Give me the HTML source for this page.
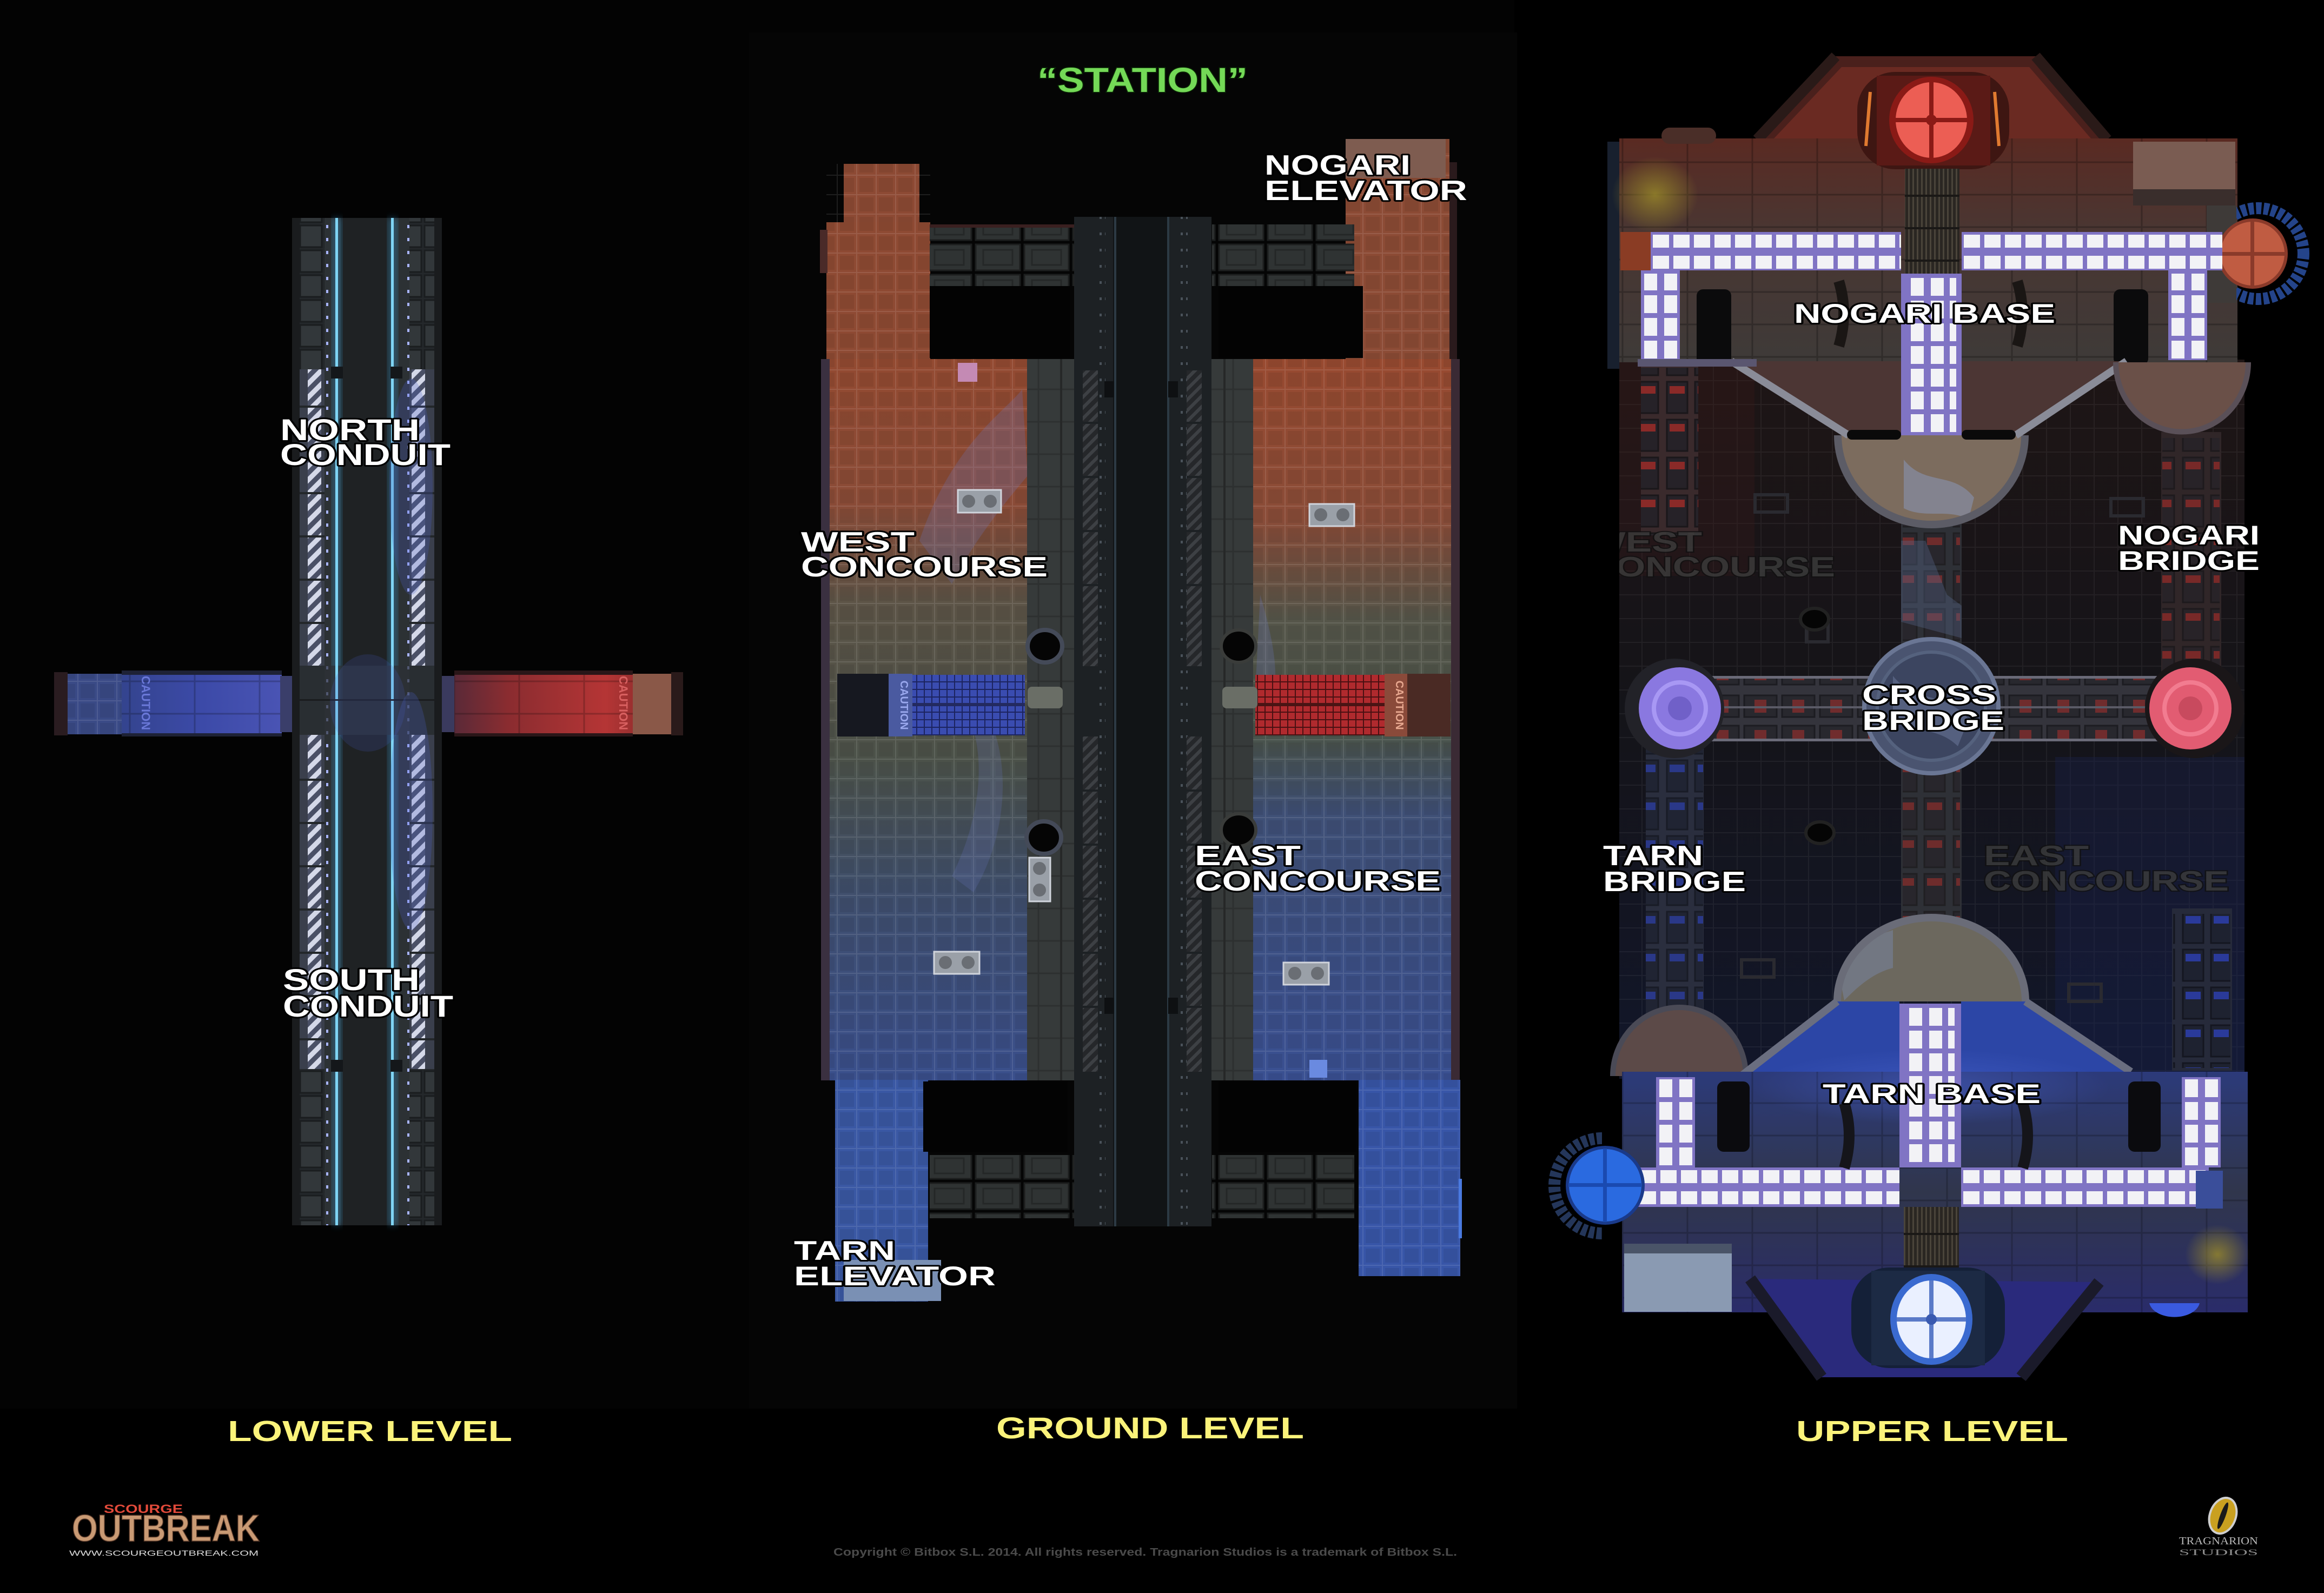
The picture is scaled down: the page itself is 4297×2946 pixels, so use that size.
<!DOCTYPE html>
<html><head><meta charset="utf-8">
<style>
html,body{margin:0;padding:0;background:#000;}
svg{display:block}
.l{font-family:"Liberation Sans",sans-serif;font-weight:bold;fill:#fff;stroke:#000;stroke-width:6;paint-order:stroke;stroke-linejoin:round}
.g{font-family:"Liberation Sans",sans-serif;font-weight:bold;fill:#3c3c3c;stroke:#111;stroke-width:4;paint-order:stroke}
.y{font-family:"Liberation Sans",sans-serif;font-weight:bold;fill:#fbf37a}
</style></head>
<body>
<svg width="4297" height="2946" viewBox="0 0 4297 2946" xmlns="http://www.w3.org/2000/svg">
<defs>
 <pattern id="tile" width="36" height="36" patternUnits="userSpaceOnUse">
  <rect width="36" height="36" fill="none" stroke="rgba(255,255,255,0.10)" stroke-width="2"/>
  <rect x="5" y="5" width="26" height="26" fill="rgba(0,0,0,0.07)"/>
 </pattern>
 <pattern id="tileD" width="44" height="44" patternUnits="userSpaceOnUse">
  <rect width="44" height="44" fill="none" stroke="rgba(255,255,255,0.05)" stroke-width="2"/>
 </pattern>
 <pattern id="haz" width="18" height="18" patternUnits="userSpaceOnUse" patternTransform="rotate(45)">
  <rect width="18" height="18" fill="#4a5066"/><rect width="9" height="18" fill="#d4d8e8"/>
 </pattern>
 <pattern id="hazd" width="14" height="14" patternUnits="userSpaceOnUse" patternTransform="rotate(45)">
  <rect width="14" height="14" fill="#25272a"/><rect width="6" height="14" fill="#3d4044"/>
 </pattern>
 <pattern id="dots" width="10" height="24" patternUnits="userSpaceOnUse">
  <rect x="3" y="8" width="4" height="6" fill="#a8b4ff"/>
 </pattern>
 <pattern id="dotsd" width="10" height="30" patternUnits="userSpaceOnUse">
  <rect x="3" y="10" width="4" height="5" fill="#4a525a"/>
 </pattern>
 <pattern id="panel" width="46" height="46" patternUnits="userSpaceOnUse">
  <rect x="3" y="3" width="40" height="40" fill="#32373a" stroke="#1a1d1f" stroke-width="3"/>
 </pattern>
 <pattern id="gpan" width="90" height="56" patternUnits="userSpaceOnUse">
  <rect x="4" y="4" width="82" height="48" fill="#2f3333" stroke="#1c1e1e" stroke-width="3"/>
  <rect x="18" y="14" width="54" height="28" fill="none" stroke="#242727" stroke-width="3"/>
 </pattern>
 <pattern id="grateB" width="14" height="14" patternUnits="userSpaceOnUse">
  <rect width="14" height="14" fill="#3a4cb0"/><rect width="14" height="2" fill="#1c2460"/><rect width="2" height="14" fill="#1c2460"/>
 </pattern>
 <pattern id="grateR" width="14" height="14" patternUnits="userSpaceOnUse">
  <rect width="14" height="14" fill="#b02a2e"/><rect width="14" height="2" fill="#4a1012"/><rect width="2" height="14" fill="#4a1012"/>
 </pattern>
 <pattern id="vgrate" width="8" height="60" patternUnits="userSpaceOnUse">
  <rect width="8" height="60" fill="#2a2622"/><rect width="3" height="60" fill="#4a443a"/><rect width="8" height="4" fill="#1a1816"/>
 </pattern>
 <pattern id="litH" width="38" height="73" patternUnits="userSpaceOnUse">
  <rect x="4" y="5" width="30" height="24" fill="#f2f2f6"/>
  <rect x="4" y="44" width="30" height="24" fill="#f2f2f6"/>
 </pattern>
 <pattern id="litV" width="72" height="42" patternUnits="userSpaceOnUse">
  <rect x="6" y="4" width="24" height="33" fill="#f2f2f6"/>
  <rect x="43" y="4" width="24" height="33" fill="#f2f2f6"/>
 </pattern>
 <pattern id="bslot" width="106" height="70" patternUnits="userSpaceOnUse">
  <rect x="8" y="6" width="38" height="58" fill="#262228" stroke="#1a171a" stroke-width="3"/>
  <rect x="60" y="6" width="38" height="58" fill="#262228" stroke="#1a171a" stroke-width="3"/>
  <rect x="13" y="14" width="28" height="14" fill="#8a2a28"/>
  <rect x="65" y="14" width="28" height="14" fill="#8a2a28"/>
 </pattern>
 <pattern id="bslotB" width="106" height="70" patternUnits="userSpaceOnUse">
  <rect x="8" y="6" width="38" height="58" fill="#1e2230" stroke="#141620" stroke-width="3"/>
  <rect x="60" y="6" width="38" height="58" fill="#1e2230" stroke="#141620" stroke-width="3"/>
  <rect x="13" y="14" width="28" height="14" fill="#2a3a9a"/>
  <rect x="65" y="14" width="28" height="14" fill="#2a3a9a"/>
 </pattern>
 <pattern id="hslot" width="70" height="116" patternUnits="userSpaceOnUse">
  <rect x="5" y="10" width="60" height="40" fill="#26262c" stroke="#18181c" stroke-width="3"/>
  <rect x="5" y="66" width="60" height="40" fill="#26262c" stroke="#18181c" stroke-width="3"/>
  <rect x="24" y="18" width="22" height="24" fill="#7a2a2a"/>
  <rect x="24" y="74" width="22" height="24" fill="#7a2a2a"/>
 </pattern>
 <pattern id="wpan" width="120" height="60" patternUnits="userSpaceOnUse">
  <rect width="120" height="60" fill="none" stroke="rgba(0,0,0,0.35)" stroke-width="3"/>
 </pattern>
 <linearGradient id="gW" x1="0" y1="0" x2="0" y2="1">
  <stop offset="0" stop-color="#934a31"/><stop offset="0.2" stop-color="#8a4b37"/>
  <stop offset="0.34" stop-color="#5c5447"/><stop offset="0.55" stop-color="#4c5249"/>
  <stop offset="0.75" stop-color="#3f4f6e"/><stop offset="1" stop-color="#3a4f8c"/>
 </linearGradient>
 <linearGradient id="gE" x1="0" y1="0" x2="0" y2="1">
  <stop offset="0" stop-color="#984a30"/><stop offset="0.22" stop-color="#8a4c38"/>
  <stop offset="0.36" stop-color="#56564a"/><stop offset="0.52" stop-color="#4a5349"/>
  <stop offset="0.63" stop-color="#3f5076"/><stop offset="1" stop-color="#3a5092"/>
 </linearGradient>
 <linearGradient id="gBlueArm" x1="0" y1="0" x2="1" y2="0">
  <stop offset="0" stop-color="#34448e"/><stop offset="0.5" stop-color="#3c4aa8"/><stop offset="1" stop-color="#4a54b4"/>
 </linearGradient>
 <linearGradient id="gRedArm" x1="0" y1="0" x2="1" y2="0">
  <stop offset="0" stop-color="#5a2a38"/><stop offset="0.3" stop-color="#8a2c30"/><stop offset="0.85" stop-color="#b53535"/><stop offset="1" stop-color="#9a3030"/>
 </linearGradient>
 <linearGradient id="gNog" x1="0" y1="0" x2="0" y2="1">
  <stop offset="0" stop-color="#5a2a22"/><stop offset="0.4" stop-color="#4a3632"/><stop offset="1" stop-color="#3e3a38"/>
 </linearGradient>
 <linearGradient id="gMid" x1="0" y1="0" x2="0" y2="1">
  <stop offset="0" stop-color="#1e1515"/><stop offset="0.5" stop-color="#141419"/><stop offset="1" stop-color="#12162a"/>
 </linearGradient>
 <linearGradient id="gTarn" x1="0" y1="0" x2="0" y2="1">
  <stop offset="0" stop-color="#2c3a7a"/><stop offset="0.5" stop-color="#30364c"/><stop offset="1" stop-color="#2a2c6a"/>
 </linearGradient>
 <radialGradient id="glowY"><stop offset="0" stop-color="#9a8a2a" stop-opacity="0.8"/><stop offset="1" stop-color="#9a8a2a" stop-opacity="0"/></radialGradient>
 <radialGradient id="glowB"><stop offset="0" stop-color="#4a64d0" stop-opacity="0.5"/><stop offset="1" stop-color="#4a64d0" stop-opacity="0"/></radialGradient>
 <clipPath id="ghostClip"><rect x="2994" y="900" width="600" height="200"/></clipPath>
 <filter id="blur6"><feGaussianBlur stdDeviation="6"/></filter>
</defs>

<rect width="4297" height="2946" fill="#000"/>
<rect x="0" y="0" width="2800" height="2605" fill="#030303"/>
<rect x="1385" y="60" width="1420" height="2545" fill="#050505"/>

<!-- ================= LOWER LEVEL ================= -->
<g>
 <rect x="100" y="1243" width="25" height="117" fill="#2a1c20"/>
 <rect x="125" y="1246" width="100" height="112" fill="#3a4a86"/>
 <rect x="125" y="1246" width="100" height="112" fill="url(#tile)"/>
 <rect x="225" y="1246" width="296" height="112" fill="url(#gBlueArm)"/>
 <rect x="225" y="1246" width="296" height="112" fill="url(#wpan)" opacity="0.6"/>
 <rect x="225" y="1240" width="296" height="8" fill="#1e2236"/>
 <rect x="225" y="1356" width="296" height="6" fill="#1e2236"/>
 <text x="262" y="1300" font-family="Liberation Sans" font-weight="bold" font-size="22" fill="#6a78d8" transform="rotate(90 262 1300)" text-anchor="middle">CAUTION</text>
 <rect x="518" y="1250" width="27" height="104" fill="#3a3e6a"/>
 <rect x="812" y="1250" width="30" height="104" fill="#3a3a5e"/>
 <rect x="840" y="1246" width="330" height="112" fill="url(#gRedArm)"/>
 <rect x="840" y="1246" width="330" height="112" fill="url(#wpan)" opacity="0.6"/>
 <rect x="840" y="1240" width="330" height="8" fill="#2a1618"/>
 <rect x="840" y="1356" width="330" height="6" fill="#2a1618"/>
 <text x="1145" y="1300" font-family="Liberation Sans" font-weight="bold" font-size="22" fill="#d86060" transform="rotate(90 1145 1300)" text-anchor="middle">CAUTION</text>
 <rect x="1170" y="1246" width="71" height="112" fill="#8a5848"/>
 <rect x="1241" y="1243" width="22" height="117" fill="#2a1a1a"/>

 <rect x="540" y="403" width="277" height="1863" fill="#24282b"/>
 <rect x="540" y="403" width="14" height="1863" fill="#1a1c1e"/>
 <rect x="803" y="403" width="14" height="1863" fill="#1a1c1e"/>
 <rect x="554" y="403" width="46" height="280" fill="url(#panel)"/>
 <rect x="757" y="403" width="46" height="280" fill="url(#panel)"/>
 <rect x="554" y="1977" width="46" height="289" fill="url(#panel)"/>
 <rect x="757" y="1977" width="46" height="289" fill="url(#panel)"/>
 <rect x="554" y="683" width="46" height="548" fill="#3a3f4c"/>
 <rect x="757" y="683" width="46" height="548" fill="#3a3f4c"/>
 <rect x="554" y="1359" width="46" height="618" fill="#3a3f4c"/>
 <rect x="757" y="1359" width="46" height="618" fill="#3a3f4c"/>
 <rect x="569" y="683" width="25" height="548" fill="url(#haz)"/>
 <rect x="761" y="683" width="25" height="548" fill="url(#haz)"/>
 <rect x="569" y="1359" width="25" height="618" fill="url(#haz)"/>
 <rect x="761" y="1359" width="25" height="618" fill="url(#haz)"/>
 <g fill="#23272a">
  <rect x="554" y="750" width="46" height="4"/><rect x="554" y="830" width="46" height="4"/><rect x="554" y="910" width="46" height="4"/><rect x="554" y="990" width="46" height="4"/><rect x="554" y="1070" width="46" height="4"/><rect x="554" y="1150" width="46" height="4"/>
  <rect x="757" y="750" width="46" height="4"/><rect x="757" y="830" width="46" height="4"/><rect x="757" y="910" width="46" height="4"/><rect x="757" y="990" width="46" height="4"/><rect x="757" y="1070" width="46" height="4"/><rect x="757" y="1150" width="46" height="4"/>
  <rect x="554" y="1440" width="46" height="4"/><rect x="554" y="1520" width="46" height="4"/><rect x="554" y="1600" width="46" height="4"/><rect x="554" y="1680" width="46" height="4"/><rect x="554" y="1760" width="46" height="4"/><rect x="554" y="1840" width="46" height="4"/><rect x="554" y="1920" width="46" height="4"/>
  <rect x="757" y="1440" width="46" height="4"/><rect x="757" y="1520" width="46" height="4"/><rect x="757" y="1600" width="46" height="4"/><rect x="757" y="1680" width="46" height="4"/><rect x="757" y="1760" width="46" height="4"/><rect x="757" y="1840" width="46" height="4"/><rect x="757" y="1920" width="46" height="4"/>
 </g>
 <rect x="600" y="403" width="30" height="1863" fill="#2c3134"/>
 <rect x="727" y="403" width="30" height="1863" fill="#2c3134"/>
 <rect x="599" y="403" width="10" height="1863" fill="url(#dots)"/>
 <rect x="748" y="403" width="10" height="1863" fill="url(#dots)"/>
 <rect x="630" y="403" width="97" height="1863" fill="#1f2224"/>
 <rect x="614" y="403" width="18" height="1863" fill="#3aa0d8" opacity="0.35" filter="url(#blur6)"/>
 <rect x="717" y="403" width="18" height="1863" fill="#3aa0d8" opacity="0.35" filter="url(#blur6)"/>
 <rect x="620" y="403" width="5" height="1863" fill="#7fd4f4"/>
 <rect x="723" y="403" width="5" height="1863" fill="#7fd4f4"/>
 <rect x="612" y="678" width="22" height="22" fill="#14171a"/><rect x="722" y="678" width="22" height="22" fill="#14171a"/>
 <rect x="612" y="1960" width="22" height="22" fill="#14171a"/><rect x="722" y="1960" width="22" height="22" fill="#14171a"/>
 <rect x="554" y="1231" width="249" height="128" fill="#2c3036" opacity="0.7"/>
 <rect x="620" y="1231" width="5" height="128" fill="#7fd4f4"/>
 <rect x="723" y="1231" width="5" height="128" fill="#7fd4f4"/>
 <rect x="554" y="1293" width="249" height="3" fill="#1a1c1e"/>
 <ellipse cx="760" cy="900" rx="40" ry="200" fill="#4a60c8" opacity="0.25"/>
 <ellipse cx="760" cy="1500" rx="40" ry="220" fill="#4a60c8" opacity="0.25"/>
 <ellipse cx="680" cy="1300" rx="70" ry="90" fill="#4a60c8" opacity="0.18"/>

 <text class="l" x="518" y="814" font-size="56" textLength="258" lengthAdjust="spacingAndGlyphs">NORTH</text>
 <text class="l" x="518" y="860" font-size="56" textLength="315" lengthAdjust="spacingAndGlyphs">CONDUIT</text>
 <text class="l" x="523" y="1831" font-size="56" textLength="253" lengthAdjust="spacingAndGlyphs">SOUTH</text>
 <text class="l" x="523" y="1880" font-size="56" textLength="315" lengthAdjust="spacingAndGlyphs">CONDUIT</text>
</g>

<!-- ================= GROUND LEVEL ================= -->
<g>
 <text x="1918" y="170" font-family="Liberation Sans" font-weight="bold" font-size="64" fill="#74d957" stroke="#0b2a06" stroke-width="3" paint-order="stroke" textLength="389" lengthAdjust="spacingAndGlyphs">“STATION”</text>

 <rect x="1560" y="303" width="140" height="110" fill="#8d4a34"/>
 <rect x="1528" y="411" width="192" height="255" fill="#8e4a33"/>
 <rect x="1528" y="303" width="192" height="363" fill="url(#tile)"/>
 <rect x="1516" y="425" width="14" height="80" fill="#4a2a28"/>
 <rect x="2488" y="257" width="192" height="409" fill="#8c4b35"/>
 <rect x="2488" y="257" width="192" height="409" fill="url(#tile)"/>
 <rect x="2488" y="257" width="185" height="72" fill="#7e5c50"/>
 <rect x="2680" y="300" width="14" height="370" fill="#2a1a1c"/>

 <rect x="1532" y="664" width="367" height="1334" fill="url(#gW)"/>
 <rect x="1532" y="664" width="367" height="1334" fill="url(#tile)"/>
 <rect x="1518" y="664" width="16" height="1334" fill="#3a3040"/>
 <rect x="2317" y="664" width="366" height="1334" fill="url(#gE)"/>
 <rect x="2317" y="664" width="366" height="1334" fill="url(#tile)"/>
 <rect x="2683" y="664" width="16" height="1334" fill="#3a2a34"/>
 <path d="M1700,1000 C1760,820 1860,760 1890,720 L1900,880 C1840,950 1790,1020 1760,1080 Z" fill="#6a78c0" opacity="0.25"/>
 <path d="M1830,1330 C1870,1420 1860,1550 1800,1650 L1760,1620 C1810,1520 1820,1420 1800,1350 Z" fill="#6a78c0" opacity="0.22"/>
 <path d="M2330,1100 C2360,1200 2370,1280 2340,1320 L2320,1300 Z" fill="#6a78c0" opacity="0.25"/>
 <rect x="1899" y="664" width="87" height="1334" fill="#363a3a"/>
 <rect x="1899" y="664" width="87" height="1334" fill="url(#wpan)" opacity="0.5"/>
 <rect x="1960" y="664" width="4" height="1334" fill="#262828"/>
 <rect x="2240" y="664" width="77" height="1334" fill="#363a3a"/>
 <rect x="2240" y="664" width="77" height="1334" fill="url(#wpan)" opacity="0.5"/>
 <rect x="2262" y="664" width="4" height="1334" fill="#262828"/>

 <rect x="1544" y="1997" width="172" height="410" fill="#3a58a4"/>
 <rect x="1544" y="1997" width="172" height="410" fill="url(#tile)"/>
 <rect x="1560" y="2330" width="180" height="76" fill="#7a90b4"/>
 <rect x="2512" y="1997" width="188" height="363" fill="#3856a8"/>
 <rect x="2512" y="1997" width="188" height="363" fill="url(#tile)"/>
 <rect x="2697" y="2180" width="6" height="110" fill="#4a7ae0"/>

 <rect x="1986" y="401" width="254" height="1867" fill="#1d2124"/>
 <rect x="2030" y="401" width="14" height="1867" fill="url(#dotsd)"/>
 <rect x="2182" y="401" width="14" height="1867" fill="url(#dotsd)"/>
 <rect x="2058" y="401" width="104" height="1867" fill="#111416"/>
 <rect x="2060" y="401" width="4" height="1867" fill="#2c3a44"/>
 <rect x="2158" y="401" width="4" height="1867" fill="#2c3a44"/>
 <rect x="2002" y="685" width="28" height="547" fill="url(#hazd)"/>
 <rect x="2194" y="685" width="28" height="547" fill="url(#hazd)"/>
 <rect x="2002" y="1362" width="28" height="620" fill="url(#hazd)"/>
 <rect x="2194" y="1362" width="28" height="620" fill="url(#hazd)"/>
 <g fill="#1d2124">
  <rect x="2002" y="780" width="28" height="4"/><rect x="2002" y="880" width="28" height="4"/><rect x="2002" y="980" width="28" height="4"/><rect x="2002" y="1080" width="28" height="4"/>
  <rect x="2194" y="780" width="28" height="4"/><rect x="2194" y="880" width="28" height="4"/><rect x="2194" y="980" width="28" height="4"/><rect x="2194" y="1080" width="28" height="4"/>
  <rect x="2002" y="1460" width="28" height="4"/><rect x="2002" y="1560" width="28" height="4"/><rect x="2002" y="1660" width="28" height="4"/><rect x="2002" y="1760" width="28" height="4"/><rect x="2002" y="1860" width="28" height="4"/>
  <rect x="2194" y="1460" width="28" height="4"/><rect x="2194" y="1560" width="28" height="4"/><rect x="2194" y="1660" width="28" height="4"/><rect x="2194" y="1760" width="28" height="4"/><rect x="2194" y="1860" width="28" height="4"/>
 </g>
 <rect x="2042" y="705" width="18" height="30" fill="#0e1012"/><rect x="2160" y="705" width="18" height="30" fill="#0e1012"/>
 <rect x="2042" y="1845" width="18" height="30" fill="#0e1012"/><rect x="2160" y="1845" width="18" height="30" fill="#0e1012"/>

 <rect x="1719" y="415" width="267" height="114" fill="url(#gpan)"/>
 <rect x="1719" y="415" width="267" height="6" fill="#3a2020"/>
 <rect x="2241" y="415" width="263" height="114" fill="url(#gpan)"/>
 <rect x="1719" y="529" width="259" height="133" fill="#030303"/>
 <rect x="2253" y="529" width="267" height="133" fill="#030303"/>
 <rect x="1719" y="2136" width="267" height="117" fill="url(#gpan)"/>
 <rect x="2241" y="2136" width="263" height="117" fill="url(#gpan)"/>
 <rect x="1707" y="2000" width="267" height="130" fill="#030303"/>
 <rect x="2253" y="2000" width="255" height="130" fill="#030303"/>

 <rect x="1548" y="1246" width="95" height="116" fill="#161820"/>
 <rect x="1643" y="1246" width="44" height="116" fill="#4a5aa0"/>
 <text x="1665" y="1304" font-family="Liberation Sans" font-weight="bold" font-size="20" fill="#9aa8ee" transform="rotate(90 1665 1304)" text-anchor="middle">CAUTION</text>
 <rect x="1687" y="1248" width="208" height="112" fill="url(#grateB)"/>
 <rect x="1687" y="1300" width="208" height="6" fill="#232a60"/>
 <rect x="2321" y="1248" width="239" height="112" fill="url(#grateR)"/>
 <rect x="2321" y="1300" width="239" height="6" fill="#4a1414"/>
 <rect x="2560" y="1246" width="42" height="116" fill="#8a4a3a"/>
 <text x="2581" y="1304" font-family="Liberation Sans" font-weight="bold" font-size="20" fill="#e8a890" transform="rotate(90 2581 1304)" text-anchor="middle">CAUTION</text>
 <rect x="2602" y="1246" width="80" height="116" fill="#4a2a24"/>
 <rect x="1900" y="1270" width="65" height="40" rx="8" fill="#6a6e66"/>
 <rect x="2260" y="1270" width="65" height="40" rx="8" fill="#6a6e66"/>
 <ellipse cx="1932" cy="1195" rx="32" ry="30" fill="#050505" stroke="#444a58" stroke-width="8"/>
 <ellipse cx="2290" cy="1195" rx="32" ry="30" fill="#050505" stroke="#3a3c3a" stroke-width="6"/>
 <ellipse cx="1930" cy="1549" rx="32" ry="30" fill="#050505" stroke="#444a58" stroke-width="8"/>
 <ellipse cx="2290" cy="1535" rx="32" ry="30" fill="#050505" stroke="#3a3c3a" stroke-width="6"/>
 <g fill="#9aa0a8" stroke="#d0d4dc" stroke-width="3">
  <rect x="1771" y="906" width="80" height="42"/><rect x="2421" y="932" width="83" height="41"/>
  <rect x="1727" y="1760" width="84" height="41"/><rect x="2373" y="1780" width="84" height="41"/>
  <rect x="1903" y="1586" width="39" height="81"/>
 </g>
 <g fill="#6a6e74">
  <circle cx="1791" cy="927" r="12"/><circle cx="1831" cy="927" r="12"/>
  <circle cx="2442" cy="952" r="12"/><circle cx="2483" cy="952" r="12"/>
  <circle cx="1748" cy="1780" r="12"/><circle cx="1790" cy="1780" r="12"/>
  <circle cx="2394" cy="1800" r="12"/><circle cx="2436" cy="1800" r="12"/>
  <circle cx="1922" cy="1606" r="12"/><circle cx="1922" cy="1646" r="12"/>
 </g>
 <rect x="1771" y="671" width="36" height="35" fill="#c48ab4"/>
 <rect x="2421" y="1960" width="33" height="33" fill="#6a8ae0"/>

 <text class="l" x="2338" y="323" font-size="52" textLength="270" lengthAdjust="spacingAndGlyphs">NOGARI</text>
 <text class="l" x="2338" y="370" font-size="52" textLength="375" lengthAdjust="spacingAndGlyphs">ELEVATOR</text>
 <text class="l" x="1481" y="1020" font-size="52" textLength="210" lengthAdjust="spacingAndGlyphs">WEST</text>
 <text class="l" x="1481" y="1066" font-size="52" textLength="456" lengthAdjust="spacingAndGlyphs">CONCOURSE</text>
 <text class="l" x="2209" y="1600" font-size="52" textLength="196" lengthAdjust="spacingAndGlyphs">EAST</text>
 <text class="l" x="2209" y="1647" font-size="52" textLength="455" lengthAdjust="spacingAndGlyphs">CONCOURSE</text>
 <text class="l" x="1468" y="2330" font-size="50" textLength="187" lengthAdjust="spacingAndGlyphs">TARN</text>
 <text class="l" x="1468" y="2377" font-size="50" textLength="373" lengthAdjust="spacingAndGlyphs">ELEVATOR</text>
</g>

<!-- ================= UPPER LEVEL ================= -->
<g>
 <rect x="2994" y="665" width="1156" height="1330" fill="url(#gMid)"/>
 <rect x="2994" y="665" width="1156" height="1330" fill="url(#tileD)"/>
 <rect x="2994" y="665" width="250" height="400" fill="#3a1a1a" opacity="0.3"/>
 <rect x="3800" y="1400" width="350" height="590" fill="#1a2250" opacity="0.35"/>
 <g fill="none" stroke="#2a2a30" stroke-width="6">
  <rect x="3245" y="915" width="60" height="32"/><rect x="3903" y="922" width="60" height="32"/>
  <rect x="3220" y="1775" width="60" height="32"/><rect x="3825" y="1820" width="60" height="32"/>
  <rect x="3340" y="1155" width="40" height="32"/>
 </g>
 <ellipse cx="3355" cy="1145" rx="26" ry="20" fill="#050505" stroke="#222" stroke-width="6"/>
 <ellipse cx="3365" cy="1540" rx="26" ry="20" fill="#050505" stroke="#222" stroke-width="6"/>

 <rect x="3034" y="670" width="106" height="320" fill="#3a2a2c"/>
 <rect x="3034" y="680" width="106" height="310" fill="url(#bslot)"/>
 <rect x="3996" y="799" width="111" height="445" fill="#302628"/>
 <rect x="3998" y="810" width="106" height="430" fill="url(#bslot)" opacity="0.8"/>
 <rect x="3043" y="1370" width="107" height="605" fill="#2a2e3e"/>
 <rect x="3043" y="1380" width="106" height="590" fill="url(#bslotB)" opacity="0.8"/>
 <rect x="4016" y="1680" width="111" height="300" fill="#262a3a"/>
 <rect x="4018" y="1690" width="106" height="285" fill="url(#bslotB)"/>
 <rect x="3515" y="960" width="112" height="745" fill="#2e3036"/>
 <rect x="3518" y="970" width="106" height="730" fill="url(#bslot)" opacity="0.7"/>
 <path d="M3515,1000 L3560,1000 L3600,1100 L3627,1120 L3627,1180 L3515,1150 Z" fill="#5a6a90" opacity="0.35"/>
 <rect x="3150" y="1252" width="850" height="116" fill="#34343c"/>
 <rect x="3150" y="1255" width="850" height="116" fill="url(#hslot)" opacity="0.85"/>
 <rect x="3150" y="1306" width="850" height="4" fill="#5a5a66"/>
 <rect x="3150" y="1250" width="850" height="5" fill="#6a6a78"/>
 <rect x="3150" y="1366" width="850" height="5" fill="#6a6a78"/>

 <circle cx="3571" cy="1306" r="124" fill="#4a5470" stroke="#6a7694" stroke-width="8"/>
 <circle cx="3571" cy="1306" r="100" fill="#3c4560" stroke="#55627e" stroke-width="6"/>
 <path d="M3500,1250 C3540,1300 3600,1280 3640,1330 L3620,1380 C3580,1340 3530,1360 3500,1320 Z" fill="#7a8ab0" opacity="0.4"/>
 <circle cx="3096" cy="1310" r="92" fill="#222228"/>
 <circle cx="3106" cy="1310" r="76" fill="#8a78e0"/>
 <circle cx="3106" cy="1310" r="48" fill="none" stroke="#a898f4" stroke-width="8"/>
 <circle cx="3106" cy="1310" r="22" fill="#7060c8"/>
 <circle cx="4058" cy="1310" r="92" fill="#1a1618"/>
 <circle cx="4050" cy="1310" r="76" fill="#e25c72"/>
 <circle cx="4050" cy="1310" r="48" fill="none" stroke="#f27c90" stroke-width="8"/>
 <circle cx="4050" cy="1310" r="22" fill="#c84a5e"/>

 <polygon points="3249,258 3394,104 3764,104 3896,258" fill="#4a201c"/>
 <polygon points="3280,256 3405,124 3752,124 3866,256" fill="#6a2a22"/>
 <path d="M3249,258 L3394,104" stroke="#2a1a18" stroke-width="20"/>
 <path d="M3896,258 L3764,104" stroke="#2a1a18" stroke-width="20"/>
 <rect x="2994" y="256" width="1143" height="414" fill="url(#gNog)"/>
 <rect x="2994" y="256" width="1143" height="414" fill="url(#wpan)" opacity="0.7"/>
 <rect x="2972" y="262" width="22" height="420" fill="#18202e"/>
 <rect x="3072" y="236" width="101" height="30" rx="15" fill="#4a2e28"/>
 <ellipse cx="3060" cy="360" rx="80" ry="70" fill="url(#glowY)"/>
 <rect x="3944" y="262" width="189" height="115" fill="#7a5c52"/>
 <rect x="3944" y="350" width="189" height="30" fill="#3a2e2c"/>
 <rect x="2996" y="429" width="56" height="71" fill="#8a3c24"/>
 <rect x="3434" y="133" width="281" height="180" rx="70" fill="#3e1612"/>
 <rect x="3470" y="140" width="210" height="166" fill="#5a1a16"/>
 <ellipse cx="3571" cy="222" rx="78" ry="80" fill="#8a1a16"/>
 <ellipse cx="3571" cy="222" rx="66" ry="70" fill="#ec5e54"/>
 <rect x="3567" y="152" width="8" height="140" fill="#8a1a16"/>
 <rect x="3505" y="218" width="132" height="8" fill="#8a1a16"/>
 <circle cx="3571" cy="222" r="10" fill="#8a1a16"/>
 <path d="M3458,170 L3450,270 M3688,170 L3696,270" stroke="#e07a30" stroke-width="6"/>
 <rect x="3522" y="312" width="101" height="196" fill="url(#vgrate)"/>
 <circle cx="4175" cy="469" r="84" fill="none" stroke="#24448a" stroke-width="22" stroke-dasharray="10 4"/>
 <rect x="4080" y="380" width="55" height="180" fill="#3e3a38"/>
 <circle cx="4165" cy="469" r="62" fill="#c05c42" stroke="#8a3a2a" stroke-width="6"/>
 <rect x="4161" y="410" width="7" height="118" fill="#8a3a2a"/>
 <rect x="4106" y="466" width="118" height="7" fill="#8a3a2a"/>
 <g transform="translate(3052,429)"><rect width="463" height="71" fill="#8074c4"/><rect width="463" height="71" fill="url(#litH)"/></g>
 <g transform="translate(3627,429)"><rect width="482" height="71" fill="#8074c4"/><rect width="482" height="71" fill="url(#litH)"/></g>
 <g transform="translate(3034,500)"><rect width="72" height="166" fill="#8074c4"/><rect y="6" width="72" height="160" fill="url(#litV)"/></g>
 <g transform="translate(4009,500)"><rect width="72" height="166" fill="#8074c4"/><rect y="6" width="72" height="160" fill="url(#litV)"/></g>
 <g transform="translate(3515,506)"><rect width="112" height="300" fill="#8074c4"/><g transform="translate(12,4)"><rect width="90" height="292" fill="url(#litV)"/></g></g>
 <rect x="3137" y="535" width="64" height="140" rx="12" fill="#0b0b0c"/>
 <rect x="3908" y="535" width="64" height="140" rx="12" fill="#0b0b0c"/>
 <path d="M3400,520 q18,60 0,120" stroke="#1a1614" stroke-width="20" fill="none"/>
 <path d="M3730,520 q18,60 0,120" stroke="#1a1614" stroke-width="20" fill="none"/>
 <polygon points="3201,668 3418,805 3515,805 3515,668" fill="#4c3634"/>
 <polygon points="3627,668 3627,805 3727,805 3932,668" fill="#4c3634"/>
 <path d="M3398,805 A173,165 0 0 0 3744,805 Z" fill="#7c6c5e"/>
 <path d="M3520,850 C3560,900 3610,870 3650,920 L3640,960 C3600,940 3560,960 3520,940 Z" fill="#8a9ac0" opacity="0.5"/>
 <path d="M3398,805 A173,165 0 0 0 3744,805" fill="none" stroke="#5c5c66" stroke-width="14"/>
 <path d="M3201,668 L3418,805" stroke="#8a8c98" stroke-width="14"/>
 <path d="M3932,668 L3727,805" stroke="#8a8c98" stroke-width="14"/>
 <rect x="3415" y="795" width="100" height="18" rx="9" fill="#0a0a0a"/>
 <rect x="3627" y="795" width="100" height="18" rx="9" fill="#0a0a0a"/>
 <path d="M3912,670 A122,128 0 0 0 4157,670 Z" fill="#6a5048"/>
 <path d="M3912,670 A122,128 0 0 0 4157,670" fill="none" stroke="#5a5058" stroke-width="10"/>
 <rect x="3028" y="664" width="220" height="14" fill="#5a5670"/>

 <path d="M3397,1852 A174,155 0 0 1 3745,1852 Z" fill="#6c685e"/>
 <path d="M3400,1800 C3430,1740 3470,1730 3500,1720 L3500,1790 C3460,1800 3430,1830 3410,1850 Z" fill="#7a8ab0" opacity="0.45"/>
 <path d="M3397,1852 A174,155 0 0 1 3745,1852" fill="none" stroke="#6a6c78" stroke-width="14"/>
 <path d="M2982,1990 A123,127 0 0 1 3228,1990 Z" fill="#5c4a48"/>
 <path d="M2982,1990 A123,127 0 0 1 3228,1990" fill="none" stroke="#4a4a56" stroke-width="10"/>
 <polygon points="3219,1990 3397,1852 3512,1852 3512,1990" fill="#2c46a6"/>
 <polygon points="3626,1852 3745,1852 3940,1982 3626,1990" fill="#2c46a6"/>
 <path d="M3219,1990 L3397,1852" stroke="#6a6e80" stroke-width="14"/>
 <path d="M3745,1852 L3940,1982" stroke="#6a6e80" stroke-width="14"/>
 <rect x="2999" y="1982" width="1157" height="445" fill="url(#gTarn)"/>
 <rect x="2999" y="1982" width="1157" height="445" fill="url(#wpan)" opacity="0.6"/>
 <ellipse cx="3571" cy="2010" rx="330" ry="70" fill="url(#glowB)"/>
 <polygon points="3236,2365 3368,2547 3737,2547 3881,2371" fill="#2a2a7c"/>
 <path d="M3236,2365 L3368,2547" stroke="#1a1a2a" stroke-width="22"/>
 <path d="M3881,2371 L3737,2547" stroke="#1a1a2a" stroke-width="22"/>
 <g transform="translate(3028,2159)"><rect width="484" height="73" fill="#8074c4"/><rect width="484" height="73" fill="url(#litH)"/></g>
 <g transform="translate(3626,2159)"><rect width="458" height="73" fill="#8074c4"/><rect width="458" height="73" fill="url(#litH)"/></g>
 <g transform="translate(3062,1992)"><rect width="72" height="167" fill="#8074c4"/><rect width="72" height="164" fill="url(#litV)"/></g>
 <g transform="translate(4034,1992)"><rect width="72" height="167" fill="#8074c4"/><rect width="72" height="164" fill="url(#litV)"/></g>
 <g transform="translate(3512,1856)"><rect width="114" height="303" fill="#8074c4"/><g transform="translate(12,4)"><rect width="90" height="296" fill="url(#litV)"/></g></g>
 <rect x="3175" y="2000" width="60" height="130" rx="12" fill="#0b0b0e"/>
 <rect x="3935" y="2000" width="60" height="130" rx="12" fill="#0b0b0e"/>
 <path d="M3410,2040 q18,60 0,120" stroke="#15151a" stroke-width="20" fill="none"/>
 <path d="M3740,2040 q18,60 0,120" stroke="#15151a" stroke-width="20" fill="none"/>
 <rect x="3520" y="2232" width="102" height="118" fill="url(#vgrate)"/>
 <rect x="3423" y="2344" width="284" height="186" rx="70" fill="#142038"/>
 <rect x="3460" y="2350" width="210" height="175" fill="#1c2a44"/>
 <ellipse cx="3571" cy="2440" rx="76" ry="84" fill="#3a6ad0"/>
 <ellipse cx="3571" cy="2440" rx="64" ry="72" fill="#eaf0ff"/>
 <rect x="3567" y="2368" width="8" height="144" fill="#5a7ac8"/>
 <rect x="3507" y="2436" width="128" height="8" fill="#5a7ac8"/>
 <circle cx="3571" cy="2440" r="10" fill="#3a5ab0"/>
 <path d="M2962,2105 A88,88 0 0 0 2962,2281" fill="none" stroke="#24365a" stroke-width="22" stroke-dasharray="10 4"/>
 <circle cx="2968" cy="2192" r="70" fill="#2a6ae0" stroke="#1a3a8a" stroke-width="6"/>
 <rect x="2964" y="2124" width="7" height="136" fill="#1a4ab0"/>
 <rect x="2900" y="2188" width="136" height="7" fill="#1a4ab0"/>
 <rect x="3003" y="2316" width="199" height="110" fill="#8a9ab2"/>
 <rect x="3003" y="2300" width="199" height="18" fill="#4a5468"/>
 <ellipse cx="4100" cy="2320" rx="60" ry="55" fill="url(#glowY)"/>
 <path d="M3974,2410 A47,30 0 0 0 4067,2410 Z" fill="#3a5ae0"/>
 <rect x="4060" y="2165" width="50" height="70" fill="#3a4e9a"/>

 <g clip-path="url(#ghostClip)" opacity="0.8">
  <text class="g" x="2937" y="1020" font-size="52" textLength="210" lengthAdjust="spacingAndGlyphs">WEST</text>
  <text class="g" x="2937" y="1066" font-size="52" textLength="456" lengthAdjust="spacingAndGlyphs">CONCOURSE</text>
 </g>
 <g opacity="0.8">
  <text class="g" x="3668" y="1600" font-size="52" textLength="194" lengthAdjust="spacingAndGlyphs">EAST</text>
  <text class="g" x="3668" y="1647" font-size="52" textLength="453" lengthAdjust="spacingAndGlyphs">CONCOURSE</text>
 </g>

 <text class="l" x="3317" y="597" font-size="50" textLength="483" lengthAdjust="spacingAndGlyphs">NOGARI BASE</text>
 <text class="l" x="3916" y="1007" font-size="50" textLength="262" lengthAdjust="spacingAndGlyphs">NOGARI</text>
 <text class="l" x="3916" y="1054" font-size="50" textLength="262" lengthAdjust="spacingAndGlyphs">BRIDGE</text>
 <text class="l" x="3443" y="1302" font-size="50" textLength="248" lengthAdjust="spacingAndGlyphs">CROSS</text>
 <text class="l" x="3443" y="1350" font-size="50" textLength="263" lengthAdjust="spacingAndGlyphs">BRIDGE</text>
 <text class="l" x="2964" y="1600" font-size="52" textLength="185" lengthAdjust="spacingAndGlyphs">TARN</text>
 <text class="l" x="2964" y="1648" font-size="52" textLength="264" lengthAdjust="spacingAndGlyphs">BRIDGE</text>
 <text class="l" x="3370" y="2040" font-size="50" textLength="403" lengthAdjust="spacingAndGlyphs">TARN BASE</text>
</g>

<text class="y" x="421" y="2665" font-size="54" textLength="526" lengthAdjust="spacingAndGlyphs">LOWER LEVEL</text>
<text class="y" x="1842" y="2660" font-size="56" textLength="569" lengthAdjust="spacingAndGlyphs">GROUND LEVEL</text>
<text class="y" x="3321" y="2665" font-size="54" textLength="503" lengthAdjust="spacingAndGlyphs">UPPER LEVEL</text>

<text x="192" y="2798" font-family="Liberation Sans" font-weight="bold" font-size="22" fill="#e24a3a" textLength="146" lengthAdjust="spacingAndGlyphs">SCOURGE</text>
<text x="133" y="2850" font-family="Liberation Sans" font-weight="bold" font-size="70" fill="#c99a74" stroke="#5a3a2a" stroke-width="1.5" textLength="347" lengthAdjust="spacingAndGlyphs">OUTBREAK</text>
<text x="128" y="2877" font-family="Liberation Sans" font-size="14" fill="#dddddd" textLength="350" lengthAdjust="spacingAndGlyphs">WWW.SCOURGEOUTBREAK.COM</text>

<text x="1541" y="2877" font-family="Liberation Sans" font-weight="bold" font-size="20" fill="#4a4a4a" textLength="1153" lengthAdjust="spacingAndGlyphs">Copyright © Bitbox S.L. 2014. All rights reserved. Tragnarion Studios is a trademark of Bitbox S.L.</text>

<g>
 <ellipse cx="4110" cy="2803" rx="24" ry="34" fill="#c9a020" stroke="#cfcfcf" stroke-width="4" transform="rotate(20 4110 2803)"/>
 <ellipse cx="4110" cy="2803" rx="5" ry="26" fill="#1a1a1a" transform="rotate(20 4110 2803)"/>
 <text x="4029" y="2856" font-family="Liberation Serif" font-size="20" fill="#b8b8b8" textLength="146" lengthAdjust="spacingAndGlyphs">TRAGNARION</text>
 <text x="4029" y="2876" font-family="Liberation Serif" font-size="16" fill="#8a8a8a" textLength="146" lengthAdjust="spacingAndGlyphs">STUDIOS</text>
</g>
</svg>
</body></html>
